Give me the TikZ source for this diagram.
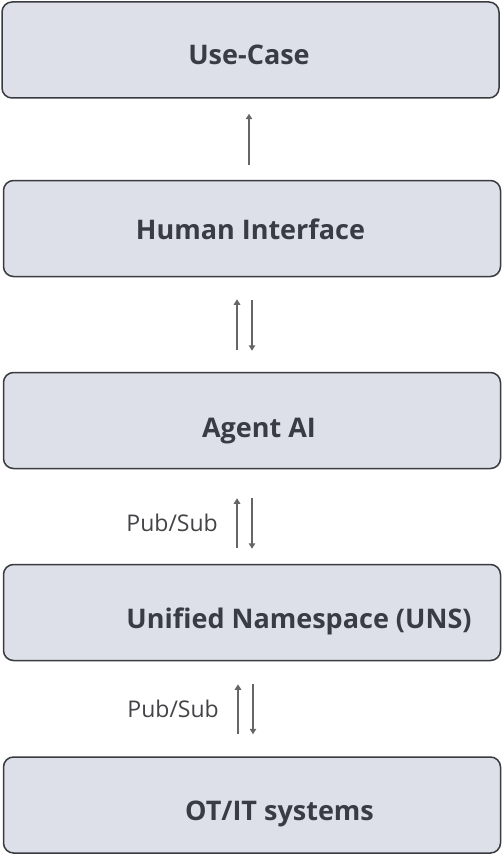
\documentclass[tikz,border=0pt]{standalone}
\usepackage{fontspec}
\setmainfont{Open Sans}
\usetikzlibrary{arrows.meta}
\definecolor{boxfill}{HTML}{DDE0E8}
\definecolor{boxdraw}{HTML}{383B40}
\definecolor{txt}{HTML}{393C43}
\definecolor{arr}{HTML}{666666}
\definecolor{lbl}{HTML}{444448}
\tikzset{
  layer/.style={draw=boxdraw, fill=boxfill, line width=1.5pt, rounded corners=10pt,
    minimum width=497pt, minimum height=96pt, inner sep=0pt},
  title/.style={anchor=base, text=txt, font=\fontsize{27}{31}\selectfont\bfseries, inner sep=0pt},
  flow/.style={draw=arr, line width=1.6pt, -{Triangle[width=6.5pt,length=5.5pt]}},
  pslabel/.style={anchor=base east, text=lbl, font=\fontsize{23}{27}\selectfont, inner sep=0pt}
}
\begin{document}
\begin{tikzpicture}[x=1pt,y=-1pt]
\useasboundingbox (0,0) rectangle (503,856);
\node[layer] (b1) at (250.5,50) {};
\node[layer] (b2) at (252,228.5) {};
\node[layer] (b3) at (252,420.5) {};
\node[layer] (b4) at (252,612.5) {};
\node[layer] (b5) at (252,805) {};
\node[title] (t1) at (249,65) {Use-Case};
\node[title] (t2) at (250.5,239) {Human Interface};
\node[title] (t3) at (259,437) {Agent AI};
\node[title] (t4) at (299,628) {Unified Namespace (UNS)};
\node[title] (t5) at (279.5,820) {OT/IT systems};
% b2 -> b1
\draw[flow, shorten <=15pt, shorten >=15pt] ([xshift=-3pt]b2.north) -- ([xshift=-1.5pt]b1.south);
% b2 <-> b3
\draw[flow, shorten <=22pt, shorten >=22pt] ([xshift=-15pt]b3.north) -- ([xshift=-15pt]b2.south);
\draw[flow, shorten <=23pt, shorten >=21pt] ([xshift=0pt]b2.south) -- ([xshift=0pt]b3.north);
% b3 <-> b4
\draw[flow, shorten <=16pt, shorten >=29pt] ([xshift=-15pt]b4.north) -- ([xshift=-15pt]b3.south);
\draw[flow, shorten <=29pt, shorten >=15pt] ([xshift=0pt]b3.south) -- ([xshift=0pt]b4.north);
\node[pslabel] (p1) at (218,531) {Pub/Sub};
% b4 <-> b5
\draw[flow, shorten <=22pt, shorten >=23pt] ([xshift=-14pt]b5.north) -- ([xshift=-14pt]b4.south);
\draw[flow, shorten <=23pt, shorten >=22pt] ([xshift=1pt]b4.south) -- ([xshift=1pt]b5.north);
\node[pslabel] (p2) at (219,717) {Pub/Sub};
\end{tikzpicture}
\end{document}
